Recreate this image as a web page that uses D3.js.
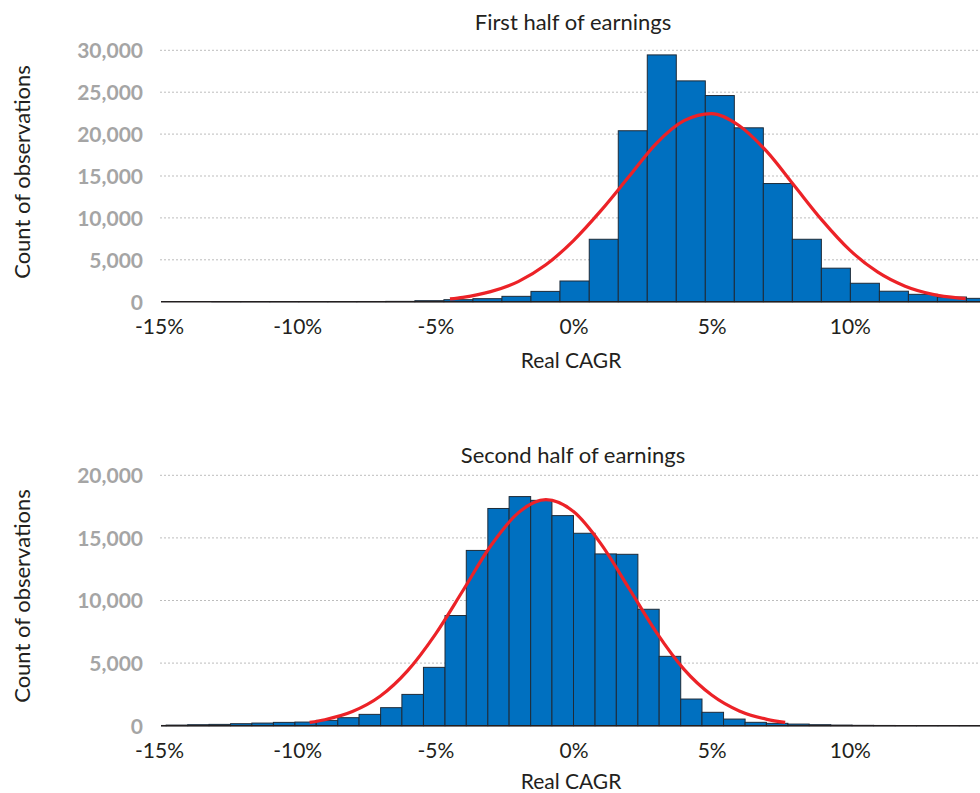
<!DOCTYPE html>
<html><head><meta charset="utf-8">
<script src="https://cdn.jsdelivr.net/npm/d3@7/dist/d3.min.js"></script>
<style>body{margin:0;background:#fff}svg{display:block}</style>
</head><body>
<script>
// ---------- data ----------
const xTicks = [-15, -10, -5, 0, 5, 10];
const xLabel = "Real CAGR";
const yLabel = "Count of observations";

const topTitle = "First half of earnings";
const topYTicks = [0, 5000, 10000, 15000, 20000, 25000, 30000];
const topBinEdges = [-15.19, -14.14, -13.09, -12.04, -10.99, -9.94, -8.89, -7.84, -6.79, -5.74, -4.69, -3.64, -2.59, -1.54, -0.49, 0.57, 1.62, 2.67, 3.72, 4.77, 5.82, 6.87, 7.92, 8.97, 10.02, 11.07, 12.12, 13.17, 14.22, 15.27];
const topCounts = [0, 0, 5, 5, 10, 15, 20, 25, 40, 120, 240, 360, 640, 1230, 2470, 7450, 20400, 29450, 26350, 24600, 20750, 14100, 7450, 4000, 2200, 1250, 880, 560, 400];
const topCurveX = [-4.47, -4, -3, -2, -1, 0, 1, 2, 3, 4, 5, 6, 7, 8, 9, 10, 11, 12, 13, 14, 14.19];
const topCurveY = [330, 520, 1200, 2400, 4400, 7300, 10900, 14900, 18900, 21600, 22450, 21000, 17900, 13800, 9700, 6150, 3550, 1850, 880, 420, 360];

const bottomTitle = "Second half of earnings";
const bottomYTicks = [0, 5000, 10000, 15000, 20000];
const bottomBinEdges = [-15.51, -14.74, -13.96, -13.19, -12.41, -11.64, -10.86, -10.08, -9.31, -8.53, -7.76, -6.98, -6.21, -5.43, -4.65, -3.88, -3.10, -2.33, -1.55, -0.78, 0, 0.78, 1.55, 2.33, 3.10, 3.88, 4.65, 5.43, 6.21, 6.98, 7.76, 8.53, 9.31, 10.08, 10.86, 11.64, 12.41, 13.19, 13.96, 14.74, 15.51];
const bottomCounts = [20, 50, 80, 105, 160, 210, 265, 290, 425, 640, 905, 1440, 2500, 4660, 8800, 14000, 17350, 18300, 18000, 16780, 15370, 13720, 13690, 9300, 5540, 2130, 1070, 530, 270, 190, 130, 80, 50, 30, 20, 10, 10, 5, 5, 5];
const bottomCurveX = [-9.55, -9, -8, -7, -6, -5, -4, -3, -2, -1, 0, 1, 2, 3, 4, 5, 6, 7, 7.66];
const bottomCurveY = [260, 480, 1130, 2350, 4400, 7300, 10800, 14350, 17000, 18050, 17100, 14500, 11000, 7450, 4500, 2450, 1180, 510, 270];

// ---------- drawing ----------
const W = 980, H = 793;
const FONT = "Lato, 'Noto Sans', sans-serif";
const svg = d3.select("body").append("svg").attr("width", W).attr("height", H)
  .style("font-family", FONT);

svg.append("defs").append("clipPath").attr("id", "plotclip")
  .append("rect").attr("x", 161).attr("y", 0).attr("width", W - 161).attr("height", H);

const x = d3.scaleLinear().domain([-15, 15]).range([159, 988]);

function panel(cfg) {
  const y = d3.scaleLinear().domain([0, cfg.yMax]).range([cfg.y0, cfg.y1]);
  const g = svg.append("g");

  // gridlines
  g.append("g").selectAll("line").data(cfg.yTicks.filter(d => d > 0)).join("line")
    .attr("x1", 160).attr("x2", W).attr("y1", d => y(d)).attr("y2", d => y(d))
    .attr("stroke", "#bdbdbd").attr("stroke-width", 1).attr("stroke-dasharray", "2,2");

  // y axis labels
  const ya = g.append("g").attr("transform", `translate(${143},0)`)
    .call(d3.axisLeft(y).tickValues(cfg.yTicks).tickSize(0).tickPadding(0).tickFormat(d3.format(",")));
  ya.select(".domain").remove();
  ya.selectAll("text").attr("fill", "#a5a5a5").style("font-size", "21px").style("font-weight", "700")
    .style("font-family", FONT).attr("dy", "0.35em");

  // bars
  const bins = cfg.counts.map((c, i) => ({x0: cfg.edges[i], x1: cfg.edges[i + 1], c}));
  g.append("g").attr("clip-path", "url(#plotclip)").selectAll("rect").data(bins).join("rect")
    .attr("x", d => x(d.x0)).attr("width", d => x(d.x1) - x(d.x0))
    .attr("y", d => y(d.c)).attr("height", d => y(0) - y(d.c))
    .attr("fill", "#0070c0").attr("stroke", "#1e2b38").attr("stroke-width", 1);

  // baseline
  g.append("line").attr("x1", 161).attr("x2", W).attr("y1", y(0)).attr("y2", y(0))
    .attr("stroke", "#231f20").attr("stroke-width", 1.6);

  // normal curve
  const pts = cfg.curveX.map((v, i) => [v, cfg.curveY[i]]);
  g.append("path").datum(pts)
    .attr("d", d3.line().x(d => x(d[0])).y(d => y(d[1])).curve(d3.curveMonotoneX))
    .attr("fill", "none").attr("stroke", "#ec2227").attr("stroke-width", 3.2);

  // x axis labels
  const xa = g.append("g").attr("transform", `translate(0,${cfg.y0})`)
    .call(d3.axisBottom(x).tickValues(xTicks).tickSize(0).tickPadding(cfg.tickPad).tickFormat(d => d + "%"));
  xa.select(".domain").remove();
  xa.selectAll("text").attr("fill", "#231f20").style("font-size", "21px").style("font-family", FONT);

  // titles
  g.append("text").attr("x", 573).attr("y", cfg.titleY).attr("text-anchor", "middle")
    .attr("fill", "#231f20").style("font-size", "22px").text(cfg.title);
  g.append("text").attr("x", 571).attr("y", cfg.xLabelY).attr("text-anchor", "middle")
    .attr("fill", "#231f20").style("font-size", "21px").text(xLabel);
  g.append("text").attr("transform", `translate(30,${cfg.yLabelC}) rotate(-90)`).attr("text-anchor", "middle")
    .attr("fill", "#231f20").style("font-size", "22px").text(yLabel);
}

panel({title: topTitle, yMax: 30000, y0: 301.7, y1: 50.3, yTicks: topYTicks,
  edges: topBinEdges, counts: topCounts, curveX: topCurveX, curveY: topCurveY,
  titleY: 30, xLabelY: 368, yLabelC: 172, tickPad: 17});
panel({title: bottomTitle, yMax: 20000, y0: 725.7, y1: 475.3, yTicks: bottomYTicks,
  edges: bottomBinEdges, counts: bottomCounts, curveX: bottomCurveX, curveY: bottomCurveY,
  titleY: 463, xLabelY: 789, yLabelC: 596, tickPad: 17});
</script>
</body></html>
